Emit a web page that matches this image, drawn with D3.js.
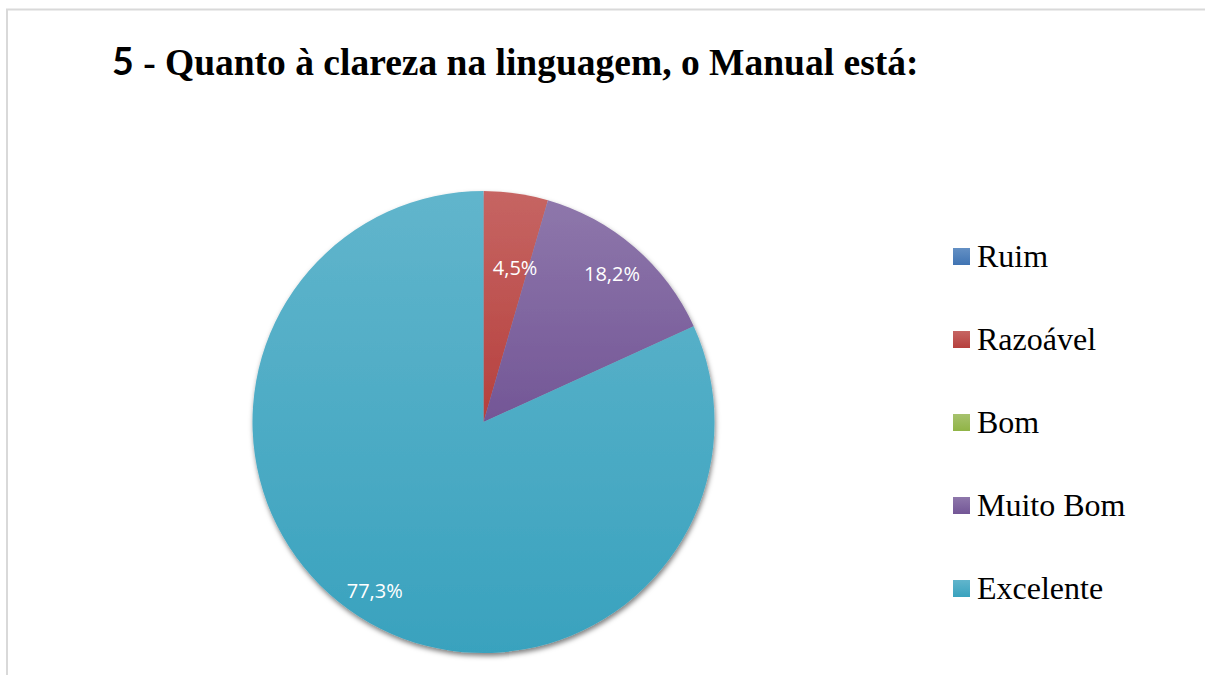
<!DOCTYPE html>
<html>
<head>
<meta charset="utf-8">
<script src="https://cdn.jsdelivr.net/npm/d3@7"></script>
<style>
  html, body { margin: 0; padding: 0; background: #ffffff; }
  svg { display: block; }
</style>
</head>
<body>
<svg id="chart" width="1205" height="675"></svg>
<script>
// ---- data ----
const categories = ["Ruim", "Razoável", "Bom", "Muito Bom", "Excelente"];
const sliceShares = [0, 4.5, 0, 13.7, 81.8];          // drawn slice sizes
const labelTexts = ["", "4,5%", "", "18,2%", "77,3%"]; // data label texts shown
const titleNumber = "5";
const titleText = " - Quanto à clareza na linguagem, o Manual está:";

// ---- layout / style ----
const W = 1205, H = 675;
const baseColors = ["#4F81BD", "#C0504D", "#9BBB59", "#8064A2", "#4BACC6"];
const cx = 483.5, cy = 422, R = 231;
const labelRadiusFrac = [0.8, 0.68, 0.8, 0.85, 0.87];
const labelAngleNudgeDeg = [0, 3.5, 0, 0, 0];

const svg = d3.select("#chart");
const defs = svg.append("defs");

function shiftL(c, dl, ds) {
  const h = d3.hsl(c);
  h.l = Math.max(0, Math.min(1, h.l + dl));
  h.s = Math.max(0, Math.min(1, h.s + ds));
  return h.formatHex();
}

// gradients
baseColors.forEach((c, i) => {
  const g = defs.append("linearGradient")
    .attr("id", "grad" + i)
    .attr("x1", 0).attr("y1", 0).attr("x2", 0).attr("y2", 1);
  g.append("stop").attr("offset", "0%").attr("stop-color", shiftL(c, 0.055, -0.01));
  g.append("stop").attr("offset", "100%").attr("stop-color", shiftL(c, -0.05, 0.02));
});

// drop shadow
const f = defs.append("filter").attr("id", "shadow")
  .attr("x", "-10%").attr("y", "-10%").attr("width", "120%").attr("height", "120%");
f.append("feDropShadow").attr("dx", 1).attr("dy", 3).attr("stdDeviation", 2.5)
  .attr("flood-color", "#000").attr("flood-opacity", 0.5);

// frame
svg.append("rect")
  .attr("x", 7).attr("y", 9.5).attr("width", W + 20).attr("height", H + 20)
  .attr("fill", "#ffffff").attr("stroke", "#d9d9d9").attr("stroke-width", 2);

// title
const title = svg.append("text")
  .attr("x", 112).attr("y", 75)
  .attr("font-size", 37.5).attr("font-weight", "bold").attr("fill", "#000");
title.append("tspan").attr("font-family", "Lato, 'Open Sans', sans-serif").text(titleNumber);
title.append("tspan").attr("font-family", "'Liberation Serif', 'Times New Roman', serif").text(titleText);

// pie
const data = categories.map((c, i) => ({ cat: c, value: sliceShares[i], label: labelTexts[i], i }));
const pie = d3.pie().value(d => d.value).sort(null);
const arcs = pie(data);
const arc = d3.arc().innerRadius(0).outerRadius(R);

const gPie = svg.append("g").attr("transform", `translate(${cx},${cy})`);
const slicesG = gPie.append("g").attr("filter", "url(#shadow)");
slicesG.selectAll("path")
  .data(arcs.filter(d => d.data.value > 0))
  .join("path")
  .attr("d", arc)
  .attr("fill", d => `url(#grad${d.data.i})`);

// labels
gPie.selectAll("text.lbl")
  .data(arcs.filter(d => d.data.value > 0 && d.data.label))
  .join("text")
  .attr("class", "lbl")
  .attr("transform", d => {
    const rr = R * labelRadiusFrac[d.data.i];
    const a = (d.startAngle + d.endAngle) / 2 + labelAngleNudgeDeg[d.data.i] * Math.PI / 180;
    const c = d3.arc().innerRadius(rr).outerRadius(rr).centroid({ startAngle: a, endAngle: a });
    return `translate(${c[0]},${c[1]})`;
  })
  .attr("text-anchor", "middle")
  .attr("dy", "0.36em")
  .attr("font-family", "'Open Sans', sans-serif")
  .attr("font-size", 20)
  .attr("fill", "#ffffff")
  .text(d => d.data.label);

// legend
const ly = d3.scalePoint().domain(categories).range([267, 599]);
const leg = svg.append("g");
const items = leg.selectAll("g").data(categories).join("g")
  .attr("transform", d => `translate(0,${ly(d)})`);
items.append("rect")
  .attr("x", 953).attr("y", -19).attr("width", 17).attr("height", 17)
  .attr("fill", (d, i) => `url(#grad${i})`);
items.append("text")
  .attr("x", 977).attr("y", 0)
  .attr("font-family", "'Liberation Serif', 'Times New Roman', serif")
  .attr("font-size", 32)
  .attr("fill", "#000")
  .text(d => d);
</script>
</body>
</html>
